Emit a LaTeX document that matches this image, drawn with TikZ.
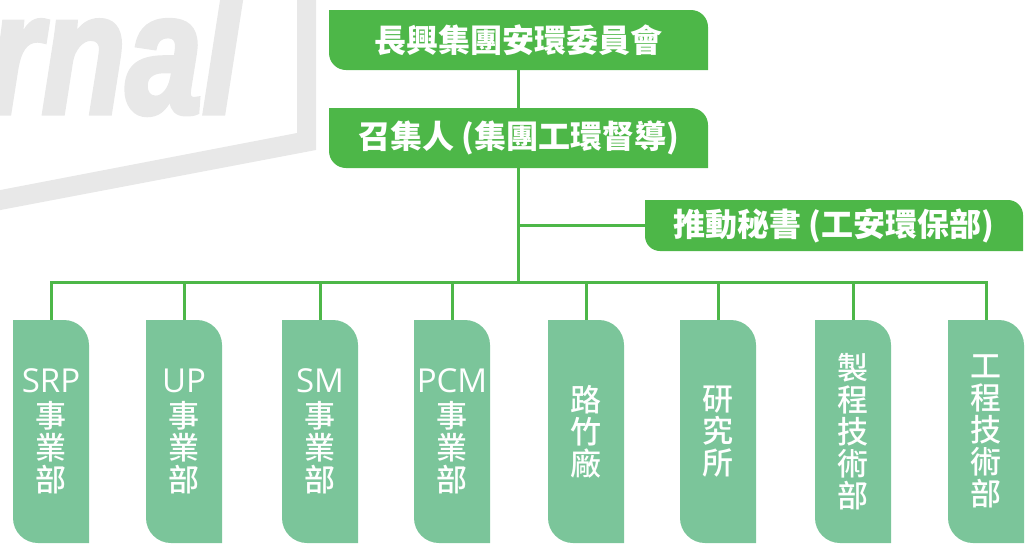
\documentclass[tikz,border=0pt]{standalone}
\usepackage{fontspec}
\setmainfont{Open Sans}
\newfontfamily\cjk{Noto Sans CJK TC}
\newfontfamily\cjkunit{Noto Sans CJK TC}[UprightFont=* Medium]
\newfontfamily\markfont{Liberation Sans}[BoldItalicFeatures={FakeBold=3}]
\usepackage{tikz}
\usetikzlibrary{positioning}
\definecolor{boardgreen}{HTML}{4DB748}
\definecolor{unitgreen}{HTML}{7BC59A}
\definecolor{markgrey}{HTML}{E8E8E8}

% leaf shape: round top right and bottom left corners
\newcommand\leafpath[2]{%
  \fill[#1] ([xshift=-#2]path picture bounding box.north east) arc[start angle=90,end angle=0,radius=#2]
    -- (path picture bounding box.south east)
    -- ([xshift=#2]path picture bounding box.south west) arc[start angle=270,end angle=180,radius=#2]
    -- (path picture bounding box.north west) -- cycle;}
\newcommand\unitlat[1]{{\normalfont\fontsize{33}{33}\selectfont #1}}

\begin{document}
\begin{tikzpicture}[x=1pt,y=1pt,
  topbox/.style={minimum width=379pt,minimum height=60pt,inner sep=0pt,text=white,
    font=\cjk\bfseries\fontsize{32}{32}\selectfont,path picture={\leafpath{boardgreen}{17pt}}},
  unitbox/.style={minimum width=76pt,minimum height=223pt,inner sep=0pt,text=white,align=center,
    font=\cjkunit\fontsize{31}{32}\selectfont,path picture={\leafpath{unitgreen}{25pt}}},
  link/.style={boardgreen,line width=3pt}]
\useasboundingbox (0,0) rectangle (1027,-544);

% watermark
\fill[markgrey] (297,10) -- (316,10) -- (316,-150) -- (-10,-212) -- (-10,-192) -- (297,-133) -- cycle;
\node[anchor=base west,inner sep=0pt,text=markgrey,transform shape,xscale=0.8,
  font=\markfont\bfseries\itshape\fontsize{172}{172}\selectfont] (mark) at (-12,-113) {rnal};

\node[topbox] (board) at (518.5,-40) {長興集團安環委員會};
\node[topbox] (convener) at (518.5,-138) {召集人 (集團工環督導)};
\node[topbox,minimum width=378pt,minimum height=51pt,path picture={\leafpath{boardgreen}{15pt}}] (secretary) at (834,-225.5) {推動秘書 (工安環保部)};

\node[unitbox] (u1) at (51,-431.5) {\unitlat{SRP}\\[3pt]事\\業\\部};
\node[unitbox] (u2) at (184,-431.5) {\unitlat{UP}\\[3pt]事\\業\\部};
\node[unitbox] (u3) at (320,-431.5) {\unitlat{SM}\\[3pt]事\\業\\部};
\node[unitbox] (u4) at (452,-431.5) {\unitlat{PCM}\\[3pt]事\\業\\部};
\node[unitbox] (u5) at (586,-431.5) {路\\竹\\廠};
\node[unitbox] (u6) at (718,-431.5) {研\\究\\所};
\node[unitbox] (u7) at (853,-431.5) {製\\程\\技\\術\\部};
\node[unitbox] (u8) at (986,-431.5) {工\\程\\技\\術\\部};

\coordinate (hub) at (convener.south |- 0,-282);
\draw[link] (board) -- (convener);
\draw[link] (convener) -- (hub);
\draw[link] (convener.south |- secretary.west) -- (secretary);
\foreach \u in {u1,u2,u3,u4,u5,u6,u7,u8}
  \draw[link] (hub) -| (\u);
\end{tikzpicture}
\end{document}
